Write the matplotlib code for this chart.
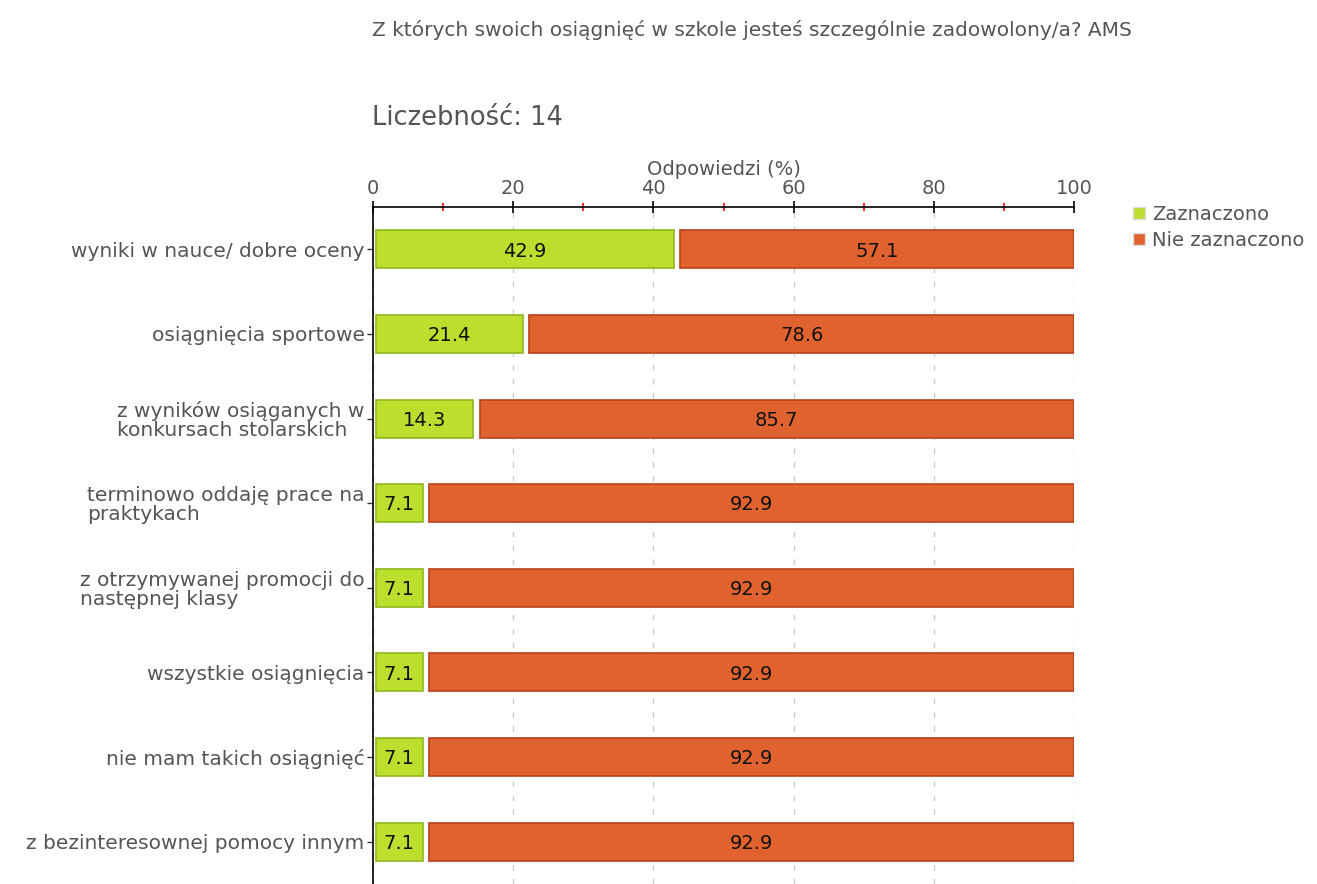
import matplotlib.pyplot as plt
from matplotlib.ticker import MultipleLocator
from matplotlib.lines import Line2D

categories = [
    "wyniki w nauce/ dobre oceny",
    "osiągnięcia sportowe",
    "z wyników osiąganych w\nkonkursach stolarskich",
    "terminowo oddaję prace na\npraktykach",
    "z otrzymywanej promocji do\nnastępnej klasy",
    "wszystkie osiągnięcia",
    "nie mam takich osiągnięć",
    "z bezinteresownej pomocy innym",
]
zaznaczono = [42.9, 21.4, 14.3, 7.1, 7.1, 7.1, 7.1, 7.1]
nie_zaznaczono = [57.1, 78.6, 85.7, 92.9, 92.9, 92.9, 92.9, 92.9]
series_names = ["Zaznaczono", "Nie zaznaczono"]

green, green_edge = "#bcdf2e", "#8fb81e"
orange, orange_edge = "#e0632f", "#b8421a"
grey = "#555555"

fig = plt.figure(figsize=(13.17, 8.84), dpi=100)
ax = fig.add_axes([373 / 1317, 0.0, 701 / 1317, 1 - 207 / 884])

pad, gap = 0.4, 0.9
for i, (z, n) in enumerate(zip(zaznaczono, nie_zaznaczono)):
    ax.barh(i, z - pad, left=pad, height=0.45, color=green,
            edgecolor=green_edge, linewidth=1.2, zorder=3)
    ax.barh(i, n - gap, left=z + gap, height=0.45, color=orange,
            edgecolor=orange_edge, linewidth=1.2, zorder=3)
    ax.text((pad + z) / 2, i + 0.02, f"{z:.1f}", ha="center", va="center",
            fontsize=14, color="#111111", zorder=4)
    ax.text(z + gap + (n - gap) / 2, i + 0.02, f"{n:.1f}", ha="center",
            va="center", fontsize=14, color="#111111", zorder=4)

ax.set_xlim(0, 100)
ax.set_ylim(7.5, -0.5)
ax.xaxis.tick_top()
ax.xaxis.set_label_position("top")
ax.xaxis.set_major_locator(MultipleLocator(20))
ax.xaxis.set_minor_locator(MultipleLocator(10))
ax.tick_params(axis="x", which="major", direction="inout", length=9,
               width=1.2, color="black", labelsize=14, labelcolor=grey, pad=2)
ax.tick_params(axis="x", which="minor", direction="inout", length=6,
               width=1.3, color="#ff1a1a")
ax.set_xlabel("Odpowiedzi (%)", fontsize=14, color=grey, labelpad=3)

ax.set_yticks(range(len(categories)))
ax.set_yticklabels(categories, fontsize=14.5, color=grey, linespacing=1.0,
                   multialignment="left")
ax.tick_params(axis="y", direction="out", length=4, width=1, color="#333333", pad=2)

ax.grid(axis="x", which="major", linestyle=(0, (4, 6)), color="#cccccc",
        linewidth=1, zorder=0)
for s in ["right", "bottom"]:
    ax.spines[s].set_visible(False)
ax.spines["top"].set_linewidth(1.2)
ax.spines["left"].set_linewidth(1.2)

fig.text(372 / 1317, 1 - 30 / 884,
         "Z których swoich osiągnięć w szkole jesteś szczególnie zadowolony/a? AMS",
         fontsize=14.5, color=grey, va="center")
fig.text(372 / 1317, 1 - 118 / 884, "Liczebność: 14", fontsize=18.5,
         color=grey, va="center")

handles = [Line2D([], [], marker="s", linestyle="none", markersize=9,
                  markerfacecolor=c, markeredgecolor="#dddddd")
           for c in (green, orange)]
fig.legend(handles, series_names, loc="upper left",
           bbox_to_anchor=(1121 / 1317, 1 - 197 / 884), frameon=False,
           fontsize=14, labelcolor=grey, handletextpad=0.2,
           borderaxespad=0, labelspacing=0.38, handlelength=1.0)

fig.savefig("out.png", dpi=100)
